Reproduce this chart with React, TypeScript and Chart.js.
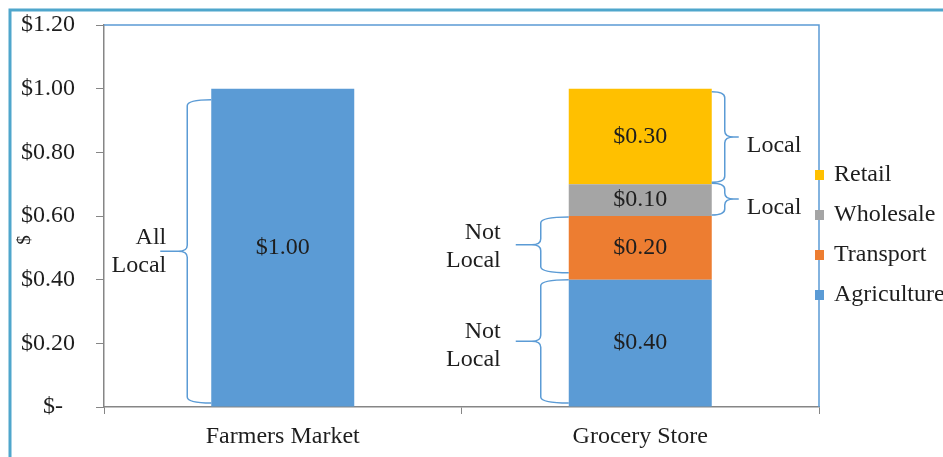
import { useEffect, useRef } from "react";
import { Chart, registerables } from "chart.js";

Chart.register(...registerables);

// ---------- data ----------
const categories = ["Farmers Market", "Grocery Store"];
const seriesNames = ["Agriculture", "Transport", "Wholesale", "Retail"];
const agriculture = [1.0, 0.4];
const transport = [null, 0.2];
const wholesale = [null, 0.1];
const retail = [null, 0.3];
const yTickValues = [0, 0.2, 0.4, 0.6, 0.8, 1.0, 1.2];
const yAxisTitle = "$";

// brace annotations (value ranges on a category)
const braceCategory = [0, 1, 1, 1, 1];
const braceSide = ["left", "left", "left", "right", "right"];
const braceFrom = [0, 0.4, 0, 0.7, 0.6];
const braceTo = [1.0, 0.6, 0.4, 1.0, 0.7];
const braceText = [["All", "Local"], ["Not", "Local"], ["Not", "Local"], ["Local"], ["Local"]];

// ---------- styles ----------
const seriesColors = ["#5B9BD5", "#ED7D31", "#A5A5A5", "#FFC000"];
const FONT = '"Liberation Serif", "Times New Roman", serif';
const FS = 24;
const TEXT = "#1e1e1e";
const AXIS = "#868686";
const BRACE = "#5B9BD5";
const braceInsetTop = [11, 1, 0, 3, -1];
const braceInsetBottom = [4, 7, 4, 2, 1];
const braceSpine = [24, 28, 28, 13, 13];
const braceTip = [27, 25, 25, 14, 14];
const braceTextGap = [-6, 15, 15, 8, 8];
const braceTextDy = [0, 2, 4, 9, 9];

function drawBrace(ctx: CanvasRenderingContext2D, xEnd: number, xSpine: number, xTip: number, y1: number, y2: number) {
  const ym = (y1 + y2) / 2;
  const r = Math.min(6, (y2 - y1) / 4);
  const s = Math.sign(xTip - xSpine);
  ctx.beginPath();
  ctx.moveTo(xEnd, y1);
  ctx.quadraticCurveTo(xSpine, y1, xSpine, y1 + r);
  ctx.lineTo(xSpine, ym - r);
  ctx.quadraticCurveTo(xSpine, ym, xSpine + s * r * 1.5, ym);
  ctx.lineTo(xTip, ym);
  ctx.moveTo(xSpine + s * r * 1.5, ym);
  ctx.quadraticCurveTo(xSpine, ym, xSpine, ym + r);
  ctx.lineTo(xSpine, y2 - r);
  ctx.quadraticCurveTo(xSpine, y2, xEnd, y2);
  ctx.stroke();
}

const decorPlugin = {
  id: "decor",
  beforeDatasetsDraw(chart: any) {
    const { ctx, chartArea } = chart;
    ctx.save();
    // outer frame
    ctx.strokeStyle = "#4FA6CC";
    ctx.lineWidth = 3;
    ctx.beginPath();
    ctx.moveTo(10, 457);
    ctx.lineTo(10, 10);
    ctx.lineTo(943, 10);
    ctx.stroke();
    // plot area top/right border
    ctx.strokeStyle = "#5B9BD5";
    ctx.lineWidth = 1.5;
    ctx.beginPath();
    ctx.moveTo(chartArea.left, chartArea.top);
    ctx.lineTo(chartArea.right, chartArea.top);
    ctx.lineTo(chartArea.right, chartArea.bottom);
    ctx.stroke();
    ctx.restore();
  },
  afterDatasetsDraw(chart: any) {
    const { ctx } = chart;
    ctx.save();
    ctx.font = `${FS}px ${FONT}`;
    ctx.fillStyle = TEXT;
    ctx.textAlign = "center";
    ctx.textBaseline = "middle";
    chart.data.datasets.forEach((ds: any, di: number) => {
      const meta = chart.getDatasetMeta(di);
      meta.data.forEach((el: any, i: number) => {
        const v = ds.data[i];
        if (v == null) return;
        ctx.fillText("$" + v.toFixed(2), el.x, (el.y + el.base) / 2);
      });
    });
    ctx.restore();
  },
  afterDraw(chart: any) {
    const { ctx, chartArea, scales } = chart;
    const y = scales.y;
    const meta = chart.getDatasetMeta(0);
    ctx.save();
    // braces
    ctx.strokeStyle = BRACE;
    ctx.lineWidth = 1.5;
    ctx.font = `${FS}px ${FONT}`;
    ctx.fillStyle = TEXT;
    ctx.textBaseline = "middle";
    braceCategory.forEach((c, k) => {
      const el = meta.data[c];
      const half = el.width / 2;
      const y1 = y.getPixelForValue(braceTo[k]) + braceInsetTop[k];
      const y2 = y.getPixelForValue(braceFrom[k]) - braceInsetBottom[k];
      const ym = (y1 + y2) / 2;
      const lines = braceText[k];
      if (braceSide[k] === "left") {
        const xEnd = el.x - half;
        const xSpine = xEnd - braceSpine[k];
        const xTip = xSpine - braceTip[k];
        drawBrace(ctx, xEnd, xSpine, xTip, y1, y2);
        ctx.textAlign = "right";
        const tx = xTip - braceTextGap[k];
        lines.forEach((t, j) => {
          ctx.fillText(t, tx, ym + braceTextDy[k] + (j - (lines.length - 1) / 2) * 28);
        });
      } else {
        const xEnd = el.x + half;
        const xSpine = xEnd + braceSpine[k];
        const xTip = xSpine + braceTip[k];
        drawBrace(ctx, xEnd, xSpine, xTip, y1, y2);
        ctx.textAlign = "left";
        const tx = xTip + braceTextGap[k];
        lines.forEach((t, j) => {
          ctx.fillText(t, tx, ym + braceTextDy[k] + (j - (lines.length - 1) / 2) * 28);
        });
      }
    });
    // legend (reversed order)
    const n = chart.data.datasets.length;
    for (let i = n - 1; i >= 0; i--) {
      const row = n - 1 - i;
      const cy = 175 + row * 40;
      const ds = chart.data.datasets[i];
      ctx.fillStyle = ds.backgroundColor;
      ctx.fillRect(chartArea.right - 4, cy - 5, 9, 10);
      ctx.fillStyle = TEXT;
      ctx.textAlign = "left";
      ctx.fillText(ds.label, chartArea.right + 15, cy);
    }
    // y axis title
    ctx.translate(25, 240);
    ctx.rotate(-Math.PI / 2);
    ctx.textAlign = "center";
    ctx.font = `19px ${FONT}`;
    ctx.fillText(yAxisTitle, 0, 0);
    ctx.restore();
  },
};

export default function App() {
  const ref = useRef<HTMLCanvasElement>(null);
  useEffect(() => {
    const seriesData = [agriculture, transport, wholesale, retail];
    const chart = new Chart(ref.current!, {
      type: "bar",
      data: {
        labels: categories,
        datasets: seriesNames.map((name, i) => ({
          label: name,
          data: seriesData[i] as any,
          backgroundColor: seriesColors[i],
          borderWidth: 0,
          barPercentage: 0.4,
          categoryPercentage: 1.0,
        })),
      },
      options: {
        responsive: false,
        animation: false,
        layout: { padding: { left: 0, right: 124, top: 25, bottom: 0 } },
        plugins: {
          legend: { display: false },
          tooltip: { enabled: false },
          title: { display: false },
        },
        scales: {
          x: {
            stacked: true,
            grid: { offset: true, drawOnChartArea: false, tickLength: 7, color: AXIS, lineWidth: 1 },
            border: { color: AXIS, width: 1.5 },
            ticks: { font: { family: FONT, size: FS }, color: TEXT, padding: 8 },
            afterFit: (s: any) => {
              s.height = 50;
              s.paddingLeft = 0;
              s.paddingRight = 0;
            },
          },
          y: {
            stacked: true,
            min: 0,
            max: 1.2,
            afterBuildTicks: (s: any) => {
              s.ticks = yTickValues.map((v) => ({ value: v }));
            },
            grid: { drawOnChartArea: false, tickLength: 8, color: AXIS, lineWidth: 1 },
            border: { color: AXIS, width: 1.5 },
            ticks: {
              font: { family: FONT, size: FS },
              color: TEXT,
              padding: 21,
              callback: (v: any) => (Number(v) === 0 ? "$-\u2002" : "$" + Number(v).toFixed(2)),
            },
            afterFit: (s: any) => {
              s.width = 104;
              s.paddingTop = 0;
              s.paddingBottom = 0;
            },
          },
        },
      },
      plugins: [decorPlugin],
    });
    return () => chart.destroy();
  }, []);
  return (
    <div style={{ position: "fixed", left: 0, top: 0, width: 943, height: 457, background: "#fff" }}>
      <canvas ref={ref} width={943} height={457} style={{ display: "block", width: 943, height: 457 }} />
    </div>
  );
}
